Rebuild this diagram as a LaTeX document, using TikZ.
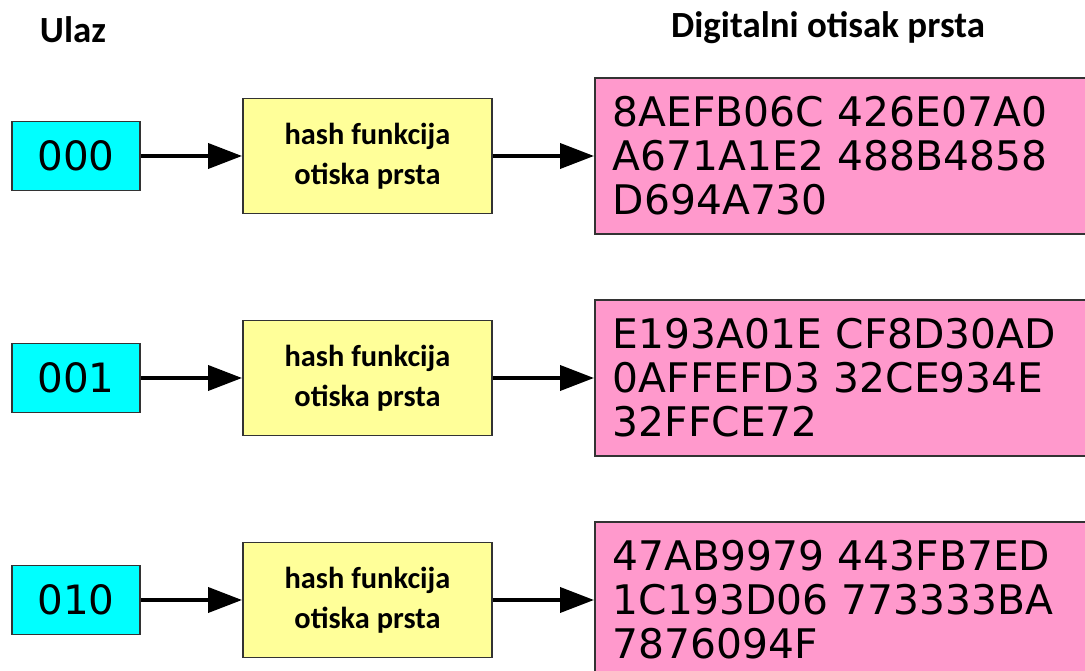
\documentclass[tikz,border=0pt]{standalone}
\usepackage{fontspec}
\newfontfamily\hexfont{DejaVu Sans}
\newfontfamily\labelfont{Carlito}
\usetikzlibrary{arrows.meta}
\definecolor{inputcyan}{HTML}{00FFFF}
\definecolor{hashyellow}{HTML}{FFFF99}
\definecolor{printpink}{HTML}{FF99CC}
\tikzset{
  inbox/.style={draw=black!80, line width=1.1pt, fill=inputcyan, minimum width=2.56cm, minimum height=1.38cm, inner sep=0pt, font=\hexfont\fontsize{23}{25}\selectfont},
  hashbox/.style={draw=black!80, line width=1.1pt, fill=hashyellow, minimum width=4.98cm, minimum height=2.3cm, inner sep=0pt, align=center, font=\labelfont\bfseries\fontsize{17.3}{23}\selectfont},
  printbox/.style={draw=black!80, line width=1.1pt, fill=printpink, anchor=west, minimum width=10cm, minimum height=3.12cm, inner xsep=0.36cm, inner ysep=0pt, text width=9.28cm, align=left, font=\hexfont\fontsize{23.2}{25}\selectfont},
  heading/.style={font=\labelfont\bfseries\fontsize{21}{25}\selectfont},
  flow/.style={line width=2.2pt, -{Triangle[length=0.68cm,width=0.5cm]}}
}
\begin{document}
\begin{tikzpicture}[]
\useasboundingbox (0, 0) rectangle (21.7, 13.42);
%\draw[help lines] (0, 0) grid (21.7, 13.42);
\node [heading] (ulaz) at (1.46, 12.82) {Ulaz};
\node [heading] (otisak) at (16.56, 12.86) {Digitalni otisak prsta};

\node [inbox] (in1) at (1.52, 10.3) {000};
\node [hashbox] (hash1) at (7.35, 10.3) {hash funkcija\\otiska prsta};
\node [printbox] (fp1) at (11.88, 10.3) {8AEFB06C 426E07A0\\A671A1E2 488B4858\\D694A730};

\node [inbox] (in2) at (1.52, 5.86) {001};
\node [hashbox] (hash2) at (7.35, 5.86) {hash funkcija\\otiska prsta};
\node [printbox] (fp2) at (11.88, 5.86) {E193A01E CF8D30AD\\0AFFEFD3 32CE934E\\32FFCE72};

\node [inbox] (in3) at (1.52, 1.42) {010};
\node [hashbox] (hash3) at (7.35, 1.42) {hash funkcija\\otiska prsta};
\node [printbox] (fp3) at (11.88, 1.42) {47AB9979 443FB7ED\\1C193D06 773333BA\\7876094F};

\draw [flow] (in1) -- (hash1);
\draw [flow] (hash1) -- (fp1);
\draw [flow] (in2) -- (hash2);
\draw [flow] (hash2) -- (fp2);
\draw [flow] (in3) -- (hash3);
\draw [flow] (hash3) -- (fp3);
\end{tikzpicture}
\end{document}
